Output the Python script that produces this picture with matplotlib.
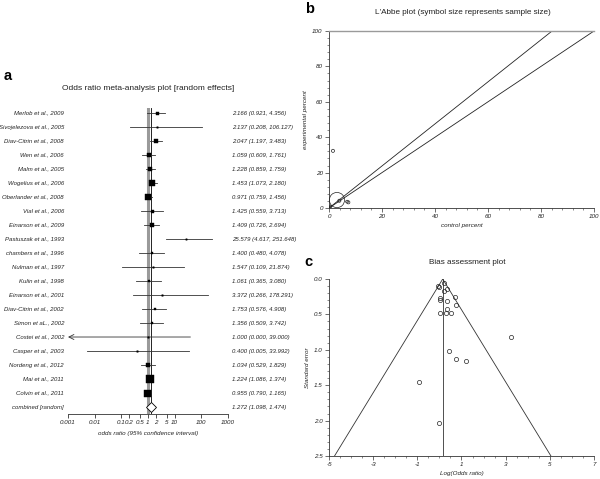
import numpy as np
import matplotlib
matplotlib.use("Agg")
import matplotlib.pyplot as plt
import matplotlib.transforms as mtransforms
from matplotlib.ticker import MultipleLocator, FixedLocator, NullLocator, FixedFormatter

plt.rcParams['font.family'] = ['Liberation Sans', 'DejaVu Sans']
plt.rcParams['axes.unicode_minus'] = False

# ---------------- data: panel a (forest plot) ----------------
studies = ["Merlob et al., 2009", "Sivojelezova et al., 2005", "Diav-Citrin et al., 2008",
           "Wen et al., 2006", "Malm et al., 2005", "Wogelius et al., 2006",
           "Oberlander et al., 2008", "Vial et al., 2006", "Einarson et al., 2009",
           "Pastuszak et al., 1993", "chambers et al., 1996", "Nulman et al., 1997",
           "Kulin et al., 1998", "Einarson et al., 2001", "Diav-Citrin et al., 2002",
           "Simon et aL., 2002", "Costei et al., 2002", "Casper et al., 2003",
           "Nordeng et al., 2012", "Mai et al., 2011", "Colvin et al., 2011"]
odds_ratio = [2.166, 2.137, 2.047, 1.059, 1.228, 1.453, 0.971, 1.425, 1.409, 25.579,
              1.400, 1.547, 1.061, 3.372, 1.753, 1.356, 1.000, 0.400, 1.034, 1.224, 0.955]
ci_low = [0.921, 0.208, 1.197, 0.609, 0.859, 1.073, 0.759, 0.559, 0.726, 4.617,
          0.480, 0.109, 0.365, 0.266, 0.576, 0.509, 0.000, 0.005, 0.529, 1.086, 0.790]
ci_high = [4.356, 106.127, 3.483, 1.761, 1.759, 2.180, 1.456, 3.713, 2.694, 251.648,
           4.078, 21.874, 3.080, 178.291, 4.908, 3.742, 39.000, 33.992, 1.829, 1.374, 1.165]
study_weight = [9, 2.2, 16, 16, 25, 36, 36, 9, 12, 1, 4, 2.2, 6.2, 2.2, 6.2, 6.2, 2.2, 2.2, 12, 64, 49]
combined_label = "combined [random]"
combined_or = 1.272
combined_low = 1.098
combined_high = 1.474
or_ticks = [0.001, 0.01, 0.1, 0.2, 0.5, 1, 2, 5, 10, 100, 1000]
or_tick_labels = ["0.001", "0.01", "0.1", "0.2", "0.5", "1", "2", "5", "10", "100", "1000"]

# ---------------- data: panel b (L'Abbe plot) ----------------
control_pct = [3.0, 1.5, 3.9, 7.3, 6.8, 0.6]
experimental_pct = [4.5, 32.3, 4.1, 3.2, 3.6, 0.8]
sample_size = [120, 5, 5, 5, 4, 3]
pooled_rr = 1.188

# ---------------- data: panel c (funnel / bias plot) ----------------
log_or = [-0.05, -0.03, 0.19, 0.19, 0.36, 0.04, 0.04, 0.33, 0.71, 0.77,
          0.33, 0.04, 0.31, 0.54, 3.24, 0.43, 0.75, 1.20, -0.94, -0.02]
std_err = [0.094, 0.12, 0.057, 0.175, 0.14, 0.27, 0.30, 0.31, 0.26, 0.37,
           0.43, 0.48, 0.48, 0.48, 0.825, 1.02, 1.13, 1.165, 1.46, 2.03]
funnel_center = 0.15
se_max = 2.5

TXT = '#222222'
FW = 600; FH = 479
fig = plt.figure(figsize=(FW / 100, FH / 100), dpi=100)

def frac(left, top, right, bottom):
    return [left / FW, 1 - bottom / FH, (right - left) / FW, (bottom - top) / FH]

# ================= panel a =================
ax = fig.add_axes(frac(68, 108, 228, 414))
n = len(studies)
ax.set_xscale('log')
ax.set_xlim(0.001, 1000)
ax.set_ylim(n + 0.5, -0.36)
for s in ['top', 'right', 'left']:
    ax.spines[s].set_visible(False)
ax.spines['bottom'].set_linewidth(0.6)
ax.spines['bottom'].set_color('#333333')
ax.yaxis.set_major_locator(NullLocator())
ax.xaxis.set_major_locator(FixedLocator(or_ticks))
ax.xaxis.set_major_formatter(FixedFormatter(or_tick_labels))
ax.xaxis.set_minor_locator(NullLocator())
ax.tick_params(axis='x', direction='out', length=3, width=0.6, color='#333333',
               labelsize=4.5, pad=1.5, labelcolor=TXT)
for lab in ax.get_xticklabels():
    lab.set_fontstyle('italic')

ax.axvline(1, color='#9a9a9a', lw=2.2, zorder=1)
ax.axvline(combined_or, color='black', lw=0.6, zorder=2)

for i in range(n):
    lo = ci_low[i]
    hi = ci_high[i]
    if lo <= 0.001:
        ax.annotate('', xy=(0.001, i), xytext=(hi, i),
                    arrowprops=dict(arrowstyle='->', lw=0.6, color='#333333',
                                    mutation_scale=9, shrinkA=0, shrinkB=0))
    else:
        ax.plot([lo, hi], [i, i], color='#333333', lw=0.6, zorder=3)
    side_pt = np.sqrt(study_weight[i]) * 0.72
    ax.plot([odds_ratio[i]], [i], marker='s', ms=max(side_pt, 1.0), color='black',
            mec='black', mew=0.3, zorder=4, clip_on=False)

crow = n
ax.plot([combined_low, combined_high], [crow, crow], color='#333333', lw=0.6, zorder=4)
ax.plot([combined_or], [crow], marker='D', ms=5.2, mfc='white', mec='black', mew=0.6,
        zorder=5, clip_on=False)

trans = mtransforms.blended_transform_factory(ax.transAxes, ax.transData)
labels_all = studies + [combined_label]
vals_all = [(odds_ratio[i], ci_low[i], ci_high[i]) for i in range(n)] + \
           [(combined_or, combined_low, combined_high)]
for i, (lab, v) in enumerate(zip(labels_all, vals_all)):
    ax.text(-0.025, i, lab, transform=trans, ha='right', va='center', fontsize=4.3,
            style='italic', color=TXT)
    ax.text(1.025, i, "%.3f (%.3f, %.3f)" % v, transform=trans, ha='left', va='center',
            fontsize=4.3, style='italic', color=TXT)

fig.text(148 / FW, 1 - 433 / FH, "odds ratio (95% confidence interval)", ha='center',
         va='center', fontsize=4.5, style='italic', color=TXT)
fig.text(148 / FW, 1 - 88 / FH, "Odds ratio meta-analysis plot [random effects]",
         ha='center', va='center', fontsize=6.0, color=TXT)
fig.text(4 / FW, 1 - 76 / FH, "a", ha='left', va='center', fontsize=10.5,
         fontweight='bold', color='black')

# ================= panel b =================
def style_axes(a):
    a.spines['right'].set_visible(False)
    for s in ['left', 'bottom']:
        a.spines[s].set_linewidth(0.6)
        a.spines[s].set_color('#333333')
    a.tick_params(which='major', direction='out', length=3, width=0.5, color='#333333',
                  labelsize=4.5, pad=1.5, labelcolor=TXT)
    a.tick_params(which='minor', direction='out', length=1.6, width=0.4, color='#333333')
    for lab in a.get_xticklabels() + a.get_yticklabels():
        lab.set_fontstyle('italic')

bx = fig.add_axes(frac(329, 31, 594, 208))
bx.set_xlim(0, 100)
bx.set_ylim(0, 100)
bx.xaxis.set_major_locator(MultipleLocator(20))
bx.yaxis.set_major_locator(MultipleLocator(20))
bx.xaxis.set_minor_locator(MultipleLocator(4))
bx.yaxis.set_minor_locator(MultipleLocator(4))
style_axes(bx)
bx.spines['top'].set_color('#9a9a9a')
bx.spines['top'].set_linewidth(1.0)
xs = np.array([0, 100])
bx.plot(xs, xs, color='#222222', lw=0.6)
bx.plot(xs, pooled_rr * xs, color='#222222', lw=0.6)
bx.scatter(control_pct, experimental_pct, s=sample_size, facecolors='none',
           edgecolors='#222222', linewidths=0.5, zorder=4, clip_on=False)
bx.set_xlabel("control percent", fontsize=4.5, style='italic', color=TXT, labelpad=3)
bx.set_ylabel("experimental percent", fontsize=4.5, style='italic', color=TXT, labelpad=3)
fig.text(463 / FW, 1 - 12 / FH, "L'Abbe plot (symbol size represents sample size)",
         ha='center', va='center', fontsize=5.9, color=TXT)
fig.text(305 / FW, 1 - 9 / FH, "b", ha='left', va='center', fontsize=10.5,
         fontweight='bold', color='black')

# ================= panel c =================
cx = fig.add_axes(frac(329, 279, 594, 456))
cx.set_xlim(-5, 7)
cx.set_ylim(se_max, 0)
cx.xaxis.set_major_locator(FixedLocator([-5, -3, -1, 1, 3, 5, 7]))
cx.xaxis.set_minor_locator(MultipleLocator(0.5))
cx.yaxis.set_major_locator(MultipleLocator(0.5))
cx.yaxis.set_minor_locator(MultipleLocator(0.1))
cx.yaxis.set_major_formatter(plt.FormatStrFormatter('%.1f'))
style_axes(cx)
cx.spines['top'].set_visible(False)
half = 1.96 * se_max
cx.plot([funnel_center - half, funnel_center, funnel_center + half], [se_max, 0, se_max],
        color='#333333', lw=0.6)
cx.plot([funnel_center, funnel_center], [0, se_max], color='#333333', lw=0.6)
cx.plot(log_or, std_err, 'o', ms=3.0, mfc='none', mec='#222222', mew=0.5, zorder=4)
cx.set_xlabel("Log(Odds ratio)", fontsize=4.5, style='italic', color=TXT, labelpad=3)
cx.set_ylabel("Standard error", fontsize=4.5, style='italic', color=TXT, labelpad=3)
fig.text(467 / FW, 1 - 263 / FH, "Bias assessment plot", ha='center', va='center',
         fontsize=5.9, color=TXT)
fig.text(304 / FW, 1 - 262 / FH, "c", ha='left', va='center', fontsize=10.5,
         fontweight='bold', color='black')

fig.savefig("out.png", dpi=100, facecolor='white')
